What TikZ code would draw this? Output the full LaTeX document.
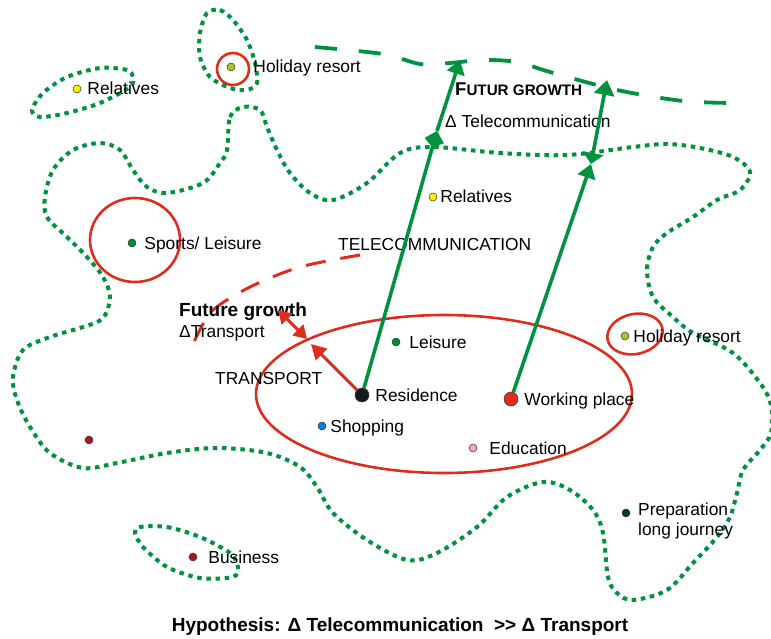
\documentclass[tikz,border=0pt]{standalone}
\usepackage{fontspec}
\setmainfont{Liberation Sans}
\usepackage{xcolor}
\usetikzlibrary{arrows.meta,positioning}

\definecolor{zonegreen}{RGB}{0,146,63}
\definecolor{ringred}{RGB}{222,45,30}
\definecolor{spotyellow}{RGB}{255,236,0}
\definecolor{spotlime}{RGB}{160,200,40}
\definecolor{spotgreen}{RGB}{0,140,60}
\definecolor{spotblue}{RGB}{0,130,220}
\definecolor{spotpink}{RGB}{240,170,170}
\definecolor{spotdarkred}{RGB}{170,20,40}
\definecolor{spotdarkgreen}{RGB}{0,60,40}

\begin{document}
\begin{tikzpicture}[x=1pt,y=-1pt,
    zone/.style={draw=zonegreen, line width=4pt, dash pattern=on 4.5pt off 4.7pt},
    ring/.style={draw=ringred, line width=2.6pt},
    spot/.style={circle, draw=black!80, line width=0.5pt, inner sep=0pt, minimum size=8pt},
    bigspot/.style={spot, minimum size=14pt},
    lbl/.style={inner sep=0pt, text height=13pt, text depth=1pt, font=\fontsize{17.4}{20}\selectfont},
    tele/.style={draw=zonegreen, line width=3.6pt},
    trans/.style={draw=ringred, line width=3pt}]
    \useasboundingbox (0,0) rectangle (771,639);

    % Reach of daily life (dotted zones)
    \draw[zone] plot[smooth cycle, tension=0.55] coordinates {
        (227,150) (230,117) (243,107) (260,110) (267,127) (277,150) (290,173)
        (310,193) (333,200) (367,183) (400,153) (433,147) (500,153) (567,155)
        (633,147) (667,144) (700,148) (733,157) (750,172) (740,190) (717,200)
        (693,217) (667,233) (653,247) (647,270) (653,297) (673,317) (693,333)
        (733,353) (760,383) (771,405) (771,433) (760,450) (743,470) (737,493)
        (730,517) (717,537) (693,563) (667,590) (633,600) (617,593) (608,577)
        (603,533) (593,510) (570,490) (543,482) (507,497) (477,527) (437,553)
        (407,560) (367,540) (333,513) (317,487) (300,467) (267,453) (217,448)
        (167,453) (117,463) (83,468) (50,453) (30,427) (17,400) (13,377)
        (23,350) (50,337) (83,327) (103,318) (110,297) (103,277) (87,257)
        (67,237) (47,217) (45,197) (53,170) (73,150) (100,143) (120,150)
        (133,170) (147,187) (167,193) (203,183) (220,163)};
    \draw[zone] plot[smooth cycle] coordinates {
        (133,77) (127,70) (100,68) (67,77) (43,93) (32,110) (40,117) (67,113) (100,103) (130,87)};
    \draw[zone] plot[smooth cycle] coordinates {
        (207,13) (220,10) (233,20) (247,40) (255,63) (257,83) (247,90) (230,88) (210,77) (200,57) (200,33)};
    \draw[zone] plot[smooth cycle] coordinates {
        (140,527) (167,527) (200,537) (230,553) (238,567) (233,577) (200,578) (167,567) (143,547) (135,533)};

    % Transport reach (red rings)
    \draw[ring] (444,394) ellipse [x radius=188, y radius=79];
    \draw[ring] (233,69) ellipse [x radius=16, y radius=16];
    \draw[ring] (135,240) ellipse [x radius=45, y radius=42];
    \draw[ring, rotate around={12:(635,334)}] (635,334) ellipse [x radius=28, y radius=20];

    % Future growth borders
    \draw[zonegreen, line width=3.8pt, dash pattern=on 22pt off 22pt] plot[smooth] coordinates {
        (315,47) (383,54) (420,64) (450,63) (483,60) (517,62) (550,72) (617,90) (683,101) (735,103)};
    \draw[ringred, line width=3pt, dash pattern=on 20pt off 15pt] plot[smooth] coordinates {
        (360,255) (300,267) (250,287) (212,311) (194,342)};

    % Places
    \node[spot, fill=spotyellow] (rel1) at (77,89) {};
    \node[lbl, right=6pt of rel1] {Relatives};
    \node[spot, fill=spotlime] (holiday1) at (231,67) {};
    \node[lbl, right=18pt of holiday1] {Holiday resort};
    \node[spot, fill=spotgreen] (sports) at (132,243) {};
    \node[lbl, right=8pt of sports] {Sports/ Leisure};
    \node[spot, fill=spotyellow] (rel2) at (433,197) {};
    \node[lbl, right=3pt of rel2] {Relatives};
    \node[spot, fill=spotgreen] (leisure) at (396,342) {};
    \node[lbl, right=9pt of leisure] {Leisure};
    \node[bigspot, fill=black!90] (residence) at (362,395) {};
    \node[lbl, right=6pt of residence] {Residence};
    \node[bigspot, fill=ringred] (working) at (511,399) {};
    \node[lbl, right=6pt of working] {Working place};
    \node[spot, fill=spotblue] (shopping) at (322,426) {};
    \node[lbl, right=4pt of shopping] {Shopping};
    \node[spot, fill=spotpink] (education) at (473,448) {};
    \node[lbl, right=12pt of education] {Education};
    \node[spot, fill=spotlime] (holiday2) at (625,336) {};
    \node[lbl, right=4pt of holiday2] {Holiday resort};
    \node[spot, fill=spotdarkred] (other) at (89,440) {};
    \node[spot, fill=spotdarkred] (business) at (193,557) {};
    \node[lbl, right=11pt of business] {Business};
    \node[spot, fill=spotdarkgreen] (prep) at (626,513) {};
    \node[lbl, anchor=north west, text height=, text depth=, align=left,
        font=\fontsize{17.4}{20}\selectfont] (preptext) at (638,503) {Preparation\\long journey};

    % Mode labels
    \node[lbl, anchor=west] (telecom) at (338,245) {TELECOMMUNICATION};
    \node[lbl, anchor=west] (transport) at (215,378) {TRANSPORT};
    \node[lbl, anchor=west, font=\bfseries\fontsize{19}{20}\selectfont] (futtrans) at (179,310) {Future growth};
    \node[lbl, anchor=west] (dtrans) at (179,331) {ΔTransport};
    \node[lbl, anchor=west, font=\bfseries] (futtele) at (455,90)
        {{\fontsize{18.5}{20}\selectfont F}{\fontsize{15.2}{20}\selectfont UTUR GROWTH}};
    \node[lbl, anchor=west] (dtele) at (445,122) {Δ Telecommunication};

    % Telecommunication growth
    \coordinate (tm1) at (437,131);
    \coordinate (ttop1) at (460,60);
    \coordinate (tm2) at (591,164);
    \coordinate (ttop2) at (607,80);
    \draw[tele, -{Kite[length=17pt,width=20pt,inset=7pt]}] (residence) -- (tm1);
    \draw[tele, -{Triangle[length=14pt,width=18pt]}] (tm1) -- (ttop1);
    \draw[tele, -{Triangle[length=14pt,width=18pt]}] (working) -- (tm2);
    \draw[tele, {Triangle[length=11pt,width=21pt]}-{Triangle[length=15pt,width=20pt]}] (tm2) -- (ttop2);

    % Transport growth
    \coordinate (rt1) at (311,344);
    \coordinate (rt2) at (307,339);
    \coordinate (rt3) at (278,310);
    \draw[trans, -{Triangle[length=15pt,width=16pt]}] (residence) -- (rt1);
    \draw[trans, {Triangle[length=13pt,width=15pt]}-{Triangle[length=13pt,width=15pt]}] (rt3) -- (rt2);

    % Hypothesis
    \node[font=\bfseries\fontsize{19}{22}\selectfont] (hypo) at (400,627)
        {Hypothesis: Δ Telecommunication\ \ >\kern0pt> Δ Transport};
\end{tikzpicture}
\end{document}
